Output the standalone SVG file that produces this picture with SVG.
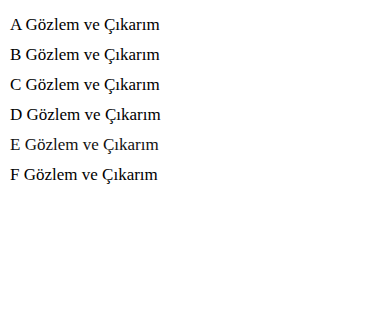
<svg xmlns="http://www.w3.org/2000/svg" width="389" height="320" viewBox="0 0 389 320">
<rect width="389" height="320" fill="#fff"/>
<text x="10" y="30" font-family="Liberation Serif, serif" font-size="17">A Gözlem ve Çıkarım</text>
<text x="10" y="60" font-family="'Liberation Serif', serif" font-size="17">B Gözlem ve Çıkarım</text>
<text x="10" y="90" font-family="Liberation Serif, Times New Roman, serif" font-size="17">C Gözlem ve Çıkarım</text>
<g font-family="Liberation Serif" font-size="17"><text x="10" y="120">D Gözlem ve Çıkarım</text></g>
<text x="10" y="150" font-family="Liberation Serif" font-size="17" fill="#111">E Gözlem ve Çıkarım</text>
<text x="10" y="180" style="font-family:'Liberation Serif',serif;font-size:17px">F Gözlem ve Çıkarım</text>
</svg>
